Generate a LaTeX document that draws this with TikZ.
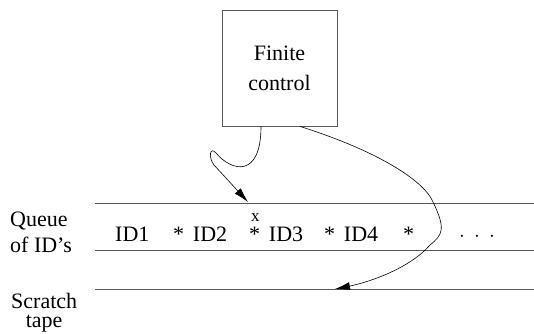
\documentclass[tikz,border=0pt]{standalone}
\usepackage{fontspec}
\setmainfont{Liberation Serif}
\usetikzlibrary{arrows.meta}
\begin{document}
\begin{tikzpicture}[x=1pt,y=-1pt,
  txt/.style={inner sep=0pt,anchor=base west,font=\fontsize{22}{24}\selectfont},
  tapeline/.style={draw=black!65,line width=0.8pt},
  conn/.style={draw=black,line width=0.6pt,-{Latex[length=15pt,width=8pt]}}]
\useasboundingbox (0,0) rectangle (534,333);
% finite control box
\node[draw=black!65,line width=0.8pt,minimum width=115pt,minimum height=116pt,inner sep=0pt,
  align=center,font=\fontsize{22}{30}\selectfont] (fc) at (279.5,68) {Finite\\control};
% tape lines
\coordinate (t1a) at (95,203); \coordinate (t1b) at (534,203);
\coordinate (t2a) at (95,250); \coordinate (t2b) at (534,250);
\coordinate (t3a) at (95,289); \coordinate (t3b) at (534,289);
\draw[tapeline] (t1a) -- (t1b);
\draw[tapeline] (t2a) -- (t2b);
\draw[tapeline] (t3a) -- (t3b);
% labels
\node[txt,align=left,font=\fontsize{22}{26}\selectfont] (q) at (10,252) {Queue\\of ID's};
\node[txt,align=center,font=\fontsize{22}{19}\selectfont] (s) at (11,327) {Scratch\\tape};
% tape contents
\node[txt] (id1) at (115,241) {ID1};
\node[txt] (id2) at (173,241) {*\hspace{0.4em}ID2};
\node[txt] (id3) at (249,241) {*\hspace{0.4em}ID3};
\node[txt] (id4) at (324,241) {*\hspace{0.4em}ID4};
\node[txt] (st) at (403,241) {*};
\node[txt] (dots) at (459,241) {$\cdot\mkern4mu\cdot\mkern4mu\cdot$};
\node[txt,font=\fontsize{17}{18}\selectfont] (x) at (251,221) {x};
% connectors
\coordinate (h1) at (248,202);
\coordinate (h2) at (335,289);
\draw[conn] ([xshift=-18.5pt]fc.south) .. controls (261,178) and (232,172) .. (216,153)
  .. controls (210,146) and (208,157) .. (214,165) -- (h1);
\draw[conn] ([xshift=20.5pt]fc.south) .. controls (390,155) and (425,185) .. (432,200)
  .. controls (447,230) and (442,235) .. (430,245) .. controls (410,268) and (370,282) .. (h2);
\end{tikzpicture}
\end{document}
